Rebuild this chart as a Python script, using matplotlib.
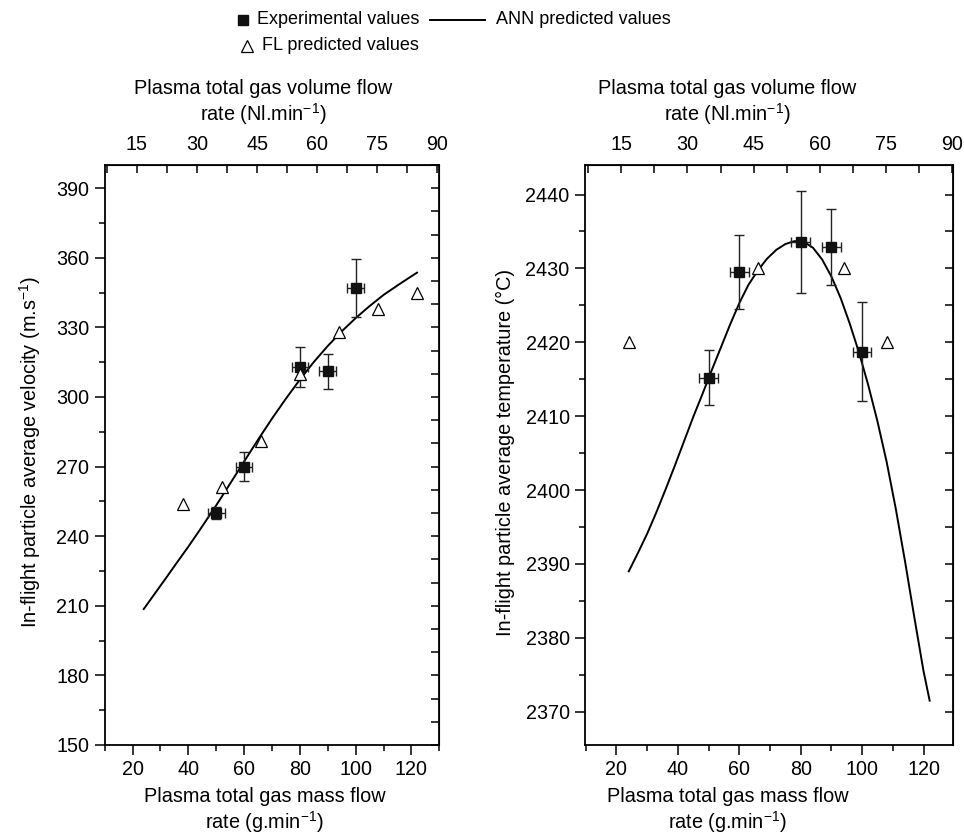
import matplotlib
matplotlib.use("Agg")
import matplotlib.pyplot as plt
from matplotlib.lines import Line2D
from matplotlib.ticker import MultipleLocator
import numpy as np

plt.rcParams['font.family'] = ['Liberation Sans', 'DejaVu Sans']
plt.rcParams['mathtext.fontset'] = 'custom'
plt.rcParams['mathtext.rm'] = 'Liberation Sans'

# ---- velocity panel -------------------------------------------------------
vel_exp_x = [50, 60, 80, 90, 100]
vel_exp_y = [250, 270, 313, 311, 347]
vel_exp_xerr = [3, 3, 3, 3, 3]
vel_exp_yerr = [2.7, 6.4, 8.6, 7.7, 12.6]

vel_fl_x = [38, 52, 66, 80, 94, 108, 122]
vel_fl_y = [254, 261, 281, 310, 328, 338, 345]

vel_ann_x = [24, 28, 32, 36, 40, 44, 50, 55, 60, 65, 70, 75, 80, 85, 90, 95,
             100, 105, 110, 116, 122]
vel_ann_y = [208.6, 215.3, 222.0, 228.8, 235.5, 242.5, 253.3, 262.7, 272.2,
             281.6, 290.7, 299.3, 307.5, 315.1, 322.0, 328.3, 334.0, 339.2,
             344.0, 348.9, 353.6]

# ---- temperature panel ----------------------------------------------------
temp_exp_x = [50, 60, 80, 90, 100]
temp_exp_y = [2415.2, 2429.5, 2433.6, 2432.9, 2418.7]
temp_exp_xerr = [3, 3, 3, 3, 3]
temp_exp_yerr = [3.7, 5.0, 6.9, 5.2, 6.7]

temp_fl_x = [24, 66, 94, 108]
temp_fl_y = [2420, 2430, 2430, 2420]

temp_ann_x = [24, 27, 30, 33, 36, 39, 42, 45, 48, 51, 54, 57, 60, 63, 66, 69,
              72, 75, 78, 81, 84, 87, 90, 93, 96, 99, 102, 105, 108, 111, 114,
              117, 120, 122]
temp_ann_y = [2389.0, 2391.5, 2394.1, 2397.0, 2400.1, 2403.3, 2406.6, 2409.9,
              2413.0, 2416.2, 2419.3, 2422.4, 2425.3, 2427.8, 2429.7, 2431.3,
              2432.5, 2433.3, 2433.7, 2433.6, 2432.8, 2431.2, 2428.9, 2426.0,
              2422.5, 2418.6, 2414.2, 2409.3, 2403.8, 2397.4, 2390.3, 2382.8,
              2375.5, 2371.5]

# mass flow (g/min) per volume flow (Nl/min)
MASS_PER_VOLUME = 1.437

vol_ticks = [15, 30, 45, 60, 75, 90]

W, H = 964, 835
fig = plt.figure(figsize=(W / 100, H / 100), dpi=100)

TICK_FS = 14.2
LABEL_FS = 14.3


def box(x0, y0, x1, y1):
    return [x0 / W, 1 - y1 / H, (x1 - x0) / W, (y1 - y0) / H]


def style_panel(ax, ylim, ymajor, yminor, xlim, right_step):
    ax.set_xlim(*xlim)
    ax.set_ylim(*ylim)
    ax.xaxis.set_major_locator(MultipleLocator(20))
    ax.xaxis.set_minor_locator(MultipleLocator(10))
    ax.yaxis.set_major_locator(MultipleLocator(ymajor))
    ax.yaxis.set_minor_locator(MultipleLocator(yminor))
    ax.tick_params(which='major', direction='out', length=7, width=1.1,
                   labelsize=TICK_FS, top=False, right=False, pad=4)
    ax.tick_params(which='minor', direction='out', length=4, width=1.1,
                   top=False, right=False)
    for s in ax.spines.values():
        s.set_linewidth(1.3)

    # volume flow scale on top
    top = ax.secondary_xaxis('top', functions=(lambda m: m / MASS_PER_VOLUME,
                                                 lambda v: v * MASS_PER_VOLUME))
    top.set_xticks(vol_ticks)
    top.xaxis.set_minor_locator(MultipleLocator(7.5))
    top.tick_params(which='major', direction='in', length=6, width=1.1,
                    labelsize=TICK_FS, pad=8)
    top.tick_params(which='minor', direction='in', length=6, width=1.1)

    # unlabelled ticks on the right frame
    right = ax.secondary_yaxis('right')
    start = np.ceil(ylim[0] / right_step) * right_step
    right.set_yticks(np.arange(start, ylim[1] + 0.01, right_step))
    right.yaxis.set_minor_locator(plt.NullLocator())
    right.tick_params(direction='in', length=6, width=1.1, labelright=False)


def draw_series(ax, ex, ey, exerr, eyerr, fx, fy, ax_x, ax_y):
    ax.plot(ax_x, ax_y, color='black', lw=1.4, zorder=2, solid_joinstyle='round')
    ax.errorbar(ex, ey, xerr=exerr, yerr=eyerr, fmt='s', color='black',
                ms=7.5, mfc='#111111', mec='#111111', ecolor='#222222',
                elinewidth=1.0, capsize=3.5, capthick=1.0, zorder=3)
    ax.plot(fx, fy, linestyle='none', marker='^', ms=9, mfc='white',
            mec='black', mew=0.9, zorder=4)


# left panel: velocity
ax1 = fig.add_axes(box(104.7, 165, 439.3, 745))
draw_series(ax1, vel_exp_x, vel_exp_y, vel_exp_xerr, vel_exp_yerr,
            vel_fl_x, vel_fl_y, vel_ann_x, vel_ann_y)
style_panel(ax1, (150, 400), 30, 15, (10, 130), 10)

# right panel: temperature
ax2 = fig.add_axes(box(585, 165, 953, 745))
draw_series(ax2, temp_exp_x, temp_exp_y, temp_exp_xerr, temp_exp_yerr,
            temp_fl_x, temp_fl_y, temp_ann_x, temp_ann_y)
style_panel(ax2, (2365.5, 2444), 10, 5, (9.75, 129.6), 5)

# axis titles
def ftext(x, y, s, **kw):
    fig.text(x / W, 1 - y / H, s, ha='center', va='center',
             fontsize=LABEL_FS, **kw)

ftext(30, 452, 'In-flight particle average velocity (m.s$^{-1}$)', rotation=90)
ftext(505, 452, 'In-flight particle average temperature (°C)', rotation=90)

for cx in (265, 728):
    ftext(cx, 796, 'Plasma total gas mass flow')
    ftext(cx, 822, 'rate (g.min$^{-1}$)')
for cx in (263, 727):
    ftext(cx, 88, 'Plasma total gas volume flow')
    ftext(cx, 114, 'rate (Nl.min$^{-1}$)')

# legend
def fpt(x, y):
    return x / W, 1 - y / H

fig.add_artist(Line2D(*zip(fpt(243, 20)), transform=fig.transFigure,
                      marker='s', ms=7, color='#111111', linestyle='none'))
fig.add_artist(Line2D(*zip(fpt(247, 46)), transform=fig.transFigure,
                      marker='^', ms=8, mfc='white', mec='black', mew=0.9,
                      linestyle='none'))
fig.add_artist(Line2D(*zip(fpt(430, 20), fpt(485, 20)), transform=fig.transFigure,
                      color='black', lw=1.4))
for x, y, s in [(257, 20, 'Experimental values'), (262, 46, 'FL predicted values'),
                (496, 20, 'ANN predicted values')]:
    fig.text(x / W, 1 - y / H, s, ha='left', va='center', fontsize=13)

fig.savefig('out.png', dpi=100)
